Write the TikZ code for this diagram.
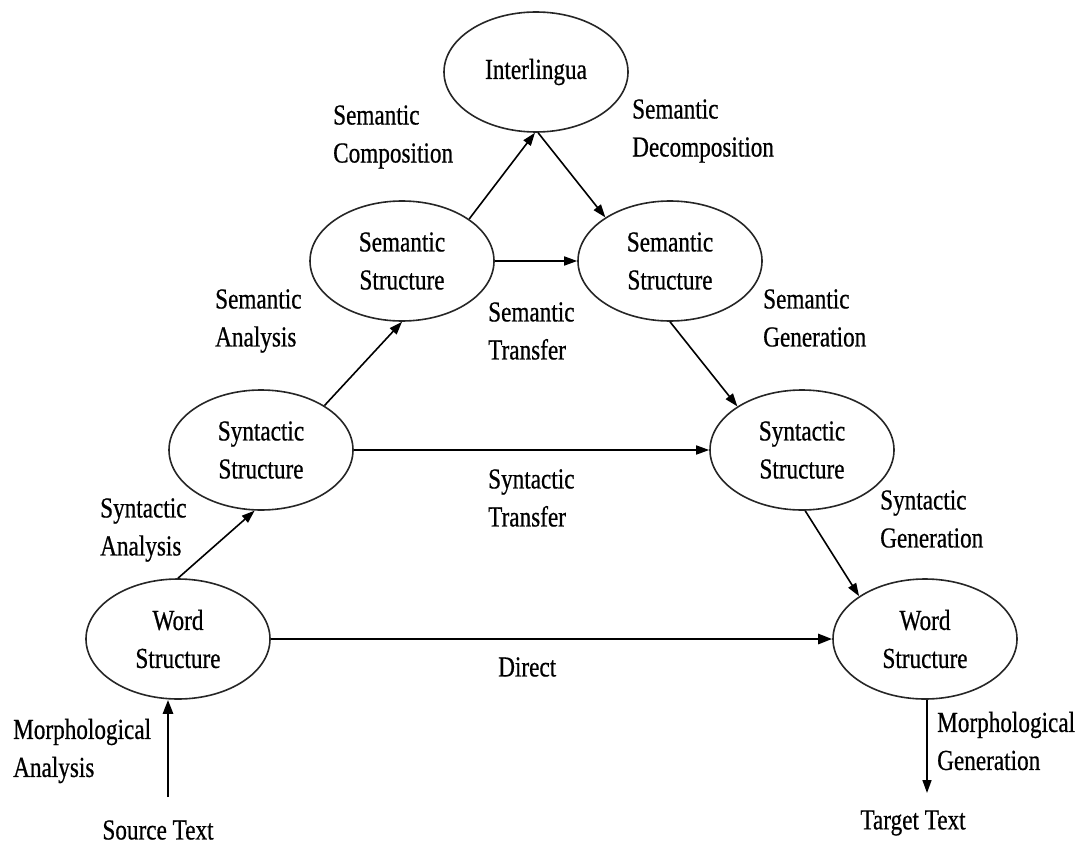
\documentclass[tikz,border=0pt]{standalone}
\usepackage{fontspec}
\setmainfont{Liberation Serif}[FakeStretch=0.8,FakeBold=0.6]
\usetikzlibrary{shapes.geometric,arrows.meta}
\tikzset{
  stage/.style={ellipse,draw=black!85,line width=1.6pt,minimum width=184pt,minimum height=120pt,inner sep=0pt,align=center,font=\fontsize{29}{38}\selectfont},
  lbl/.style={anchor=west,align=left,inner sep=0pt,font=\fontsize{29}{38}\selectfont},
  clbl/.style={align=center,inner sep=0pt,font=\fontsize{29}{38}\selectfont},
  conn/.style={line width=1.6pt,-{Triangle[length=13pt,width=9pt]}},
  thick conn/.style={line width=2.6pt,-{Triangle[length=14pt,width=10pt]}}
}
\begin{document}
\begin{tikzpicture}[x=1pt,y=-1pt]
\useasboundingbox (0,0) rectangle (1083,845);
% stages
\node[stage] (inter) at (536,72) {Interlingua};
\node[stage] (semL) at (402,261) {Semantic\\Structure};
\node[stage] (semR) at (670,261) {Semantic\\Structure};
\node[stage] (synL) at (261,450) {Syntactic\\Structure};
\node[stage] (synR) at (802,450) {Syntactic\\Structure};
\node[stage] (wordL) at (178,639) {Word\\Structure};
\node[stage] (wordR) at (925,639) {Word\\Structure};
% texts at the ends
\node[clbl] (src) at (158,830) {Source Text};
\node[clbl] (tgt) at (913,823) {Target Text};
\coordinate (srcTop) at (168,797);
\coordinate (tgtEnd) at (927,793);
% labels
\node[lbl] (lSemComp) at (333,137) {Semantic\\Composition};
\node[lbl] (lSemDec) at (632,131) {Semantic\\Decomposition};
\node[lbl] (lSemAn) at (215,321) {Semantic\\Analysis};
\node[lbl] (lSemTr) at (488,331) {Semantic\\Transfer};
\node[lbl] (lSemGen) at (763,318) {Semantic\\Generation};
\node[lbl] (lSynAn) at (100,530) {Syntactic\\Analysis};
\node[lbl] (lSynTr) at (488,498) {Syntactic\\Transfer};
\node[lbl] (lSynGen) at (880,519) {Syntactic\\Generation};
\node[lbl] (lDirect) at (498,667) {Direct};
\node[lbl] (lMorAn) at (13,751) {Morphological\\Analysis};
\node[lbl] (lMorGen) at (937,741) {Morphological\\Generation};
% connectors
\draw[conn] (semL.32) -- (inter.-91);
\draw[conn] (inter.-88) -- (semR.146);
\draw[conn] (semL.east) -- (semR.west);
\draw[conn] (synL.35) -- (semL.south);
\draw[conn] (semR.south) -- (synR.146);
\draw[conn] (synL.east) -- (synR.west);
\draw[conn] (wordL.north) -- (synL.-96);
\draw[conn] (synR.-87) -- (wordR.147);
\draw[thick conn] (wordL.east) -- (wordR.west);
\draw[thick conn] (srcTop) -- (srcTop |- wordL.south);
\draw[conn] (tgtEnd |- wordR.south) -- (tgtEnd);
\end{tikzpicture}
\end{document}
